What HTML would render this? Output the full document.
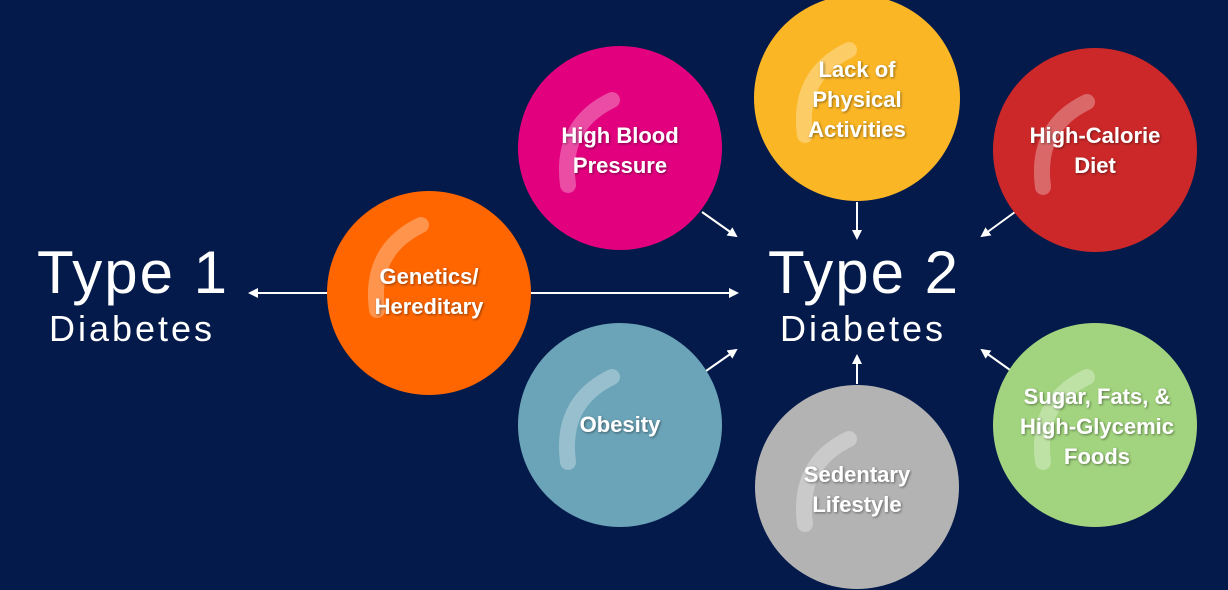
<!DOCTYPE html>
<html><head><style>
html,body{margin:0;padding:0;background:#041a4a;}
svg{display:block;}
text{font-family:"Liberation Sans",sans-serif;fill:#fff;}
.b{font-weight:bold;font-size:22px;text-anchor:middle;}
</style></head><body>
<svg width="1228" height="590" viewBox="0 0 1228 590">
<defs>
<marker id="a" markerWidth="10" markerHeight="10" refX="8" refY="5" orient="auto" markerUnits="userSpaceOnUse">
<path d="M0,0 L10,5 L0,10 Z" fill="#fff"/></marker>
<filter id="s"><feDropShadow dx="1" dy="1" stdDeviation="1.2" flood-color="#000" flood-opacity="0.45"/></filter>
</defs>
<rect width="1228" height="590" fill="#041a4a"/>
<g stroke="#fff" stroke-width="2" fill="none" marker-end="url(#a)">
<line x1="327" y1="293" x2="250" y2="293"/>
<line x1="531" y1="293" x2="737" y2="293"/>
<line x1="702" y1="212" x2="736" y2="236"/>
<line x1="857" y1="202" x2="857" y2="238"/>
<line x1="1015" y1="212" x2="982" y2="236"/>
<line x1="706" y1="371" x2="736" y2="350"/>
<line x1="857" y1="384" x2="857" y2="356"/>
<line x1="1010" y1="370" x2="982" y2="350"/>
</g>
<g>
<circle cx="620" cy="148" r="102" fill="#e2007e"/>
<circle cx="857" cy="98" r="103" fill="#fbb625"/>
<circle cx="1095" cy="150" r="102" fill="#cc2829"/>
<circle cx="429" cy="293" r="102" fill="#ff6600"/>
<circle cx="620" cy="425" r="102" fill="#6ba4b8"/>
<circle cx="857" cy="487" r="102" fill="#b3b3b3"/>
<circle cx="1095" cy="425" r="102" fill="#a2d47f"/>
</g>
<g fill="none" stroke="#fff" stroke-opacity="0.3" stroke-width="16" stroke-linecap="round">
<path d="M568,185 Q560,125 612,100"/>
<path d="M805,135 Q797,75 849,50"/>
<path d="M1043,187 Q1035,127 1087,102"/>
<path d="M377,310 Q369,250 421,225"/>
<path d="M568,462 Q560,402 612,377"/>
<path d="M805,524 Q797,464 849,439"/>
<path d="M1043,462 Q1035,402 1087,377"/>
</g>
<g filter="url(#s)">
<text class="b" x="620" y="143">High Blood</text>
<text class="b" x="620" y="173">Pressure</text>
<text class="b" x="857" y="77">Lack of</text>
<text class="b" x="857" y="107">Physical</text>
<text class="b" x="857" y="137">Activities</text>
<text class="b" x="1095" y="143">High-Calorie</text>
<text class="b" x="1095" y="173">Diet</text>
<text class="b" x="429" y="284">Genetics/</text>
<text class="b" x="429" y="314">Hereditary</text>
<text class="b" x="620" y="432">Obesity</text>
<text class="b" x="857" y="482">Sedentary</text>
<text class="b" x="857" y="512">Lifestyle</text>
<text class="b" x="1097" y="404">Sugar, Fats, &amp;</text>
<text class="b" x="1097" y="434">High-Glycemic</text>
<text class="b" x="1097" y="464">Foods</text>
</g>
<text x="133" y="293" font-size="60" letter-spacing="2" text-anchor="middle">Type 1</text>
<text x="132" y="341" font-size="36" letter-spacing="3" text-anchor="middle">Diabetes</text>
<text x="864" y="293" font-size="60" letter-spacing="2" text-anchor="middle">Type 2</text>
<text x="863" y="341" font-size="36" letter-spacing="3" text-anchor="middle">Diabetes</text>
</svg>
</body></html>
